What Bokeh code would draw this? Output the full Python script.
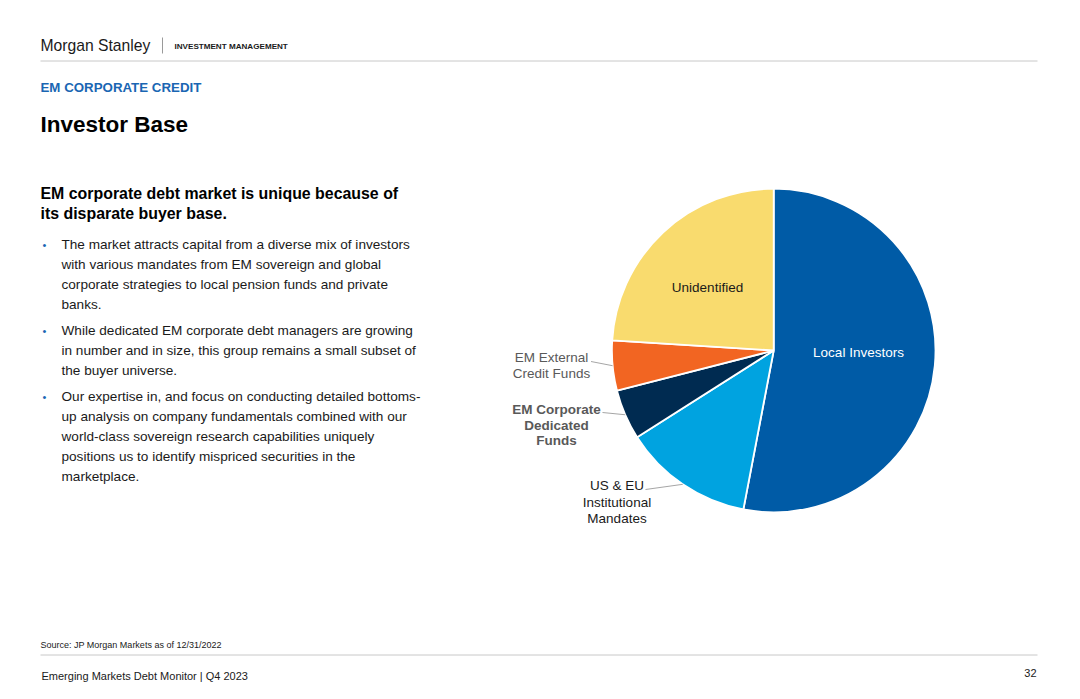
import math
from bokeh.plotting import figure
from bokeh.models import Range1d, ColumnDataSource
from bokeh.core.properties import value
from bokeh.embed import file_html
from bokeh.resources import INLINE

# ---------------- data ----------------
categories = ["Local Investors", "US & EU Institutional Mandates",
              "EM Corporate Dedicated Funds", "EM External Credit Funds", "Unidentified"]
shares = [53, 13, 5, 5, 24]
slice_colors = ["#005ba6", "#00a3e0", "#002b51", "#f26522", "#f9db6e"]

label_lines = [["Local Investors"],
               ["US & EU", "Institutional", "Mandates"],
               ["EM Corporate", "Dedicated", "Funds"],
               ["EM External", "Credit Funds"],
               ["Unidentified"]]

header_brand = "Morgan Stanley"
header_unit = "INVESTMENT MANAGEMENT"
section = "EM CORPORATE CREDIT"
title = "Investor Base"
subtitle = ["EM corporate debt market is unique because of", "its disparate buyer base."]
bullets = [
    ["The market attracts capital from a diverse mix of investors",
     "with various mandates from EM sovereign and global",
     "corporate strategies to local pension funds and private",
     "banks."],
    ["While dedicated EM corporate debt managers are growing",
     "in number and in size, this group remains a small subset of",
     "the buyer universe."],
    ["Our expertise in, and focus on conducting detailed bottoms-",
     "up analysis on company fundamentals combined with our",
     "world-class sovereign research capabilities uniquely",
     "positions us to identify mispriced securities in the",
     "marketplace."],
]
source = "Source: JP Morgan Markets as of 12/31/2022"
footer = "Emerging Markets Debt Monitor | Q4 2023"
page_no = "32"

# ---------------- layout ----------------
FONT = value("Liberation Sans")
W, H = 1064, 683
def Y(py):
    return 699 - py

p = figure(width=W, height=H, x_range=Range1d(0, W), y_range=Range1d(699 - H, 699),
           output_backend="svg", toolbar_location=None, min_border=0)
p.axis.visible = False
p.grid.visible = False
p.outline_line_color = None
p.background_fill_color = "white"
p.border_fill_color = "white"

def txt(x, py, s, size, color="#000000", style="normal", align="left"):
    p.text(x=[x], y=[Y(py)], text=[s], text_font=FONT, text_font_size=f"{size}px",
           text_color=color, text_font_style=style, text_align=align,
           text_baseline="middle")

# header
txt(40, 45, header_brand, 15.7, "#1a1a1a")
p.segment(x0=[162], y0=[Y(37)], x1=[162], y1=[Y(53)], line_color="#9a9a9a", line_width=1)
txt(174, 45.5, header_unit, 8.1, "#1a1a1a", "bold")
p.segment(x0=[40], y0=[Y(60.5)], x1=[1037], y1=[Y(60.5)], line_color="#c8c8c8", line_width=1)

txt(40, 87, section, 13.3, "#1a66b3", "bold")
txt(40, 124, title, 22.5, "#000000", "bold")
for i, s in enumerate(subtitle):
    txt(40, 193 + 20 * i, s, 15.9, "#000000", "bold")

py = 244
for para in bullets:
    txt(42, py, "\u2022", 11, "#1a66b3")
    for line in para:
        txt(61, py, line, 13.6, "#1a1a1a")
        py += 20
    py += 6

# footer
txt(40, 644, source, 9, "#1a1a1a")
p.segment(x0=[40], y0=[Y(654.5)], x1=[1037], y1=[Y(654.5)], line_color="#c8c8c8", line_width=1)
txt(41, 675, footer, 11, "#1a1a1a")
txt(1036, 672, page_no, 11, "#1a1a1a", align="right")

# ---------------- pie ----------------
cx, cy, R = 773.2, Y(350), 161.8
total = float(sum(shares))
starts, ends, mids = [], [], []
acc = 0.0
for v in shares:
    a0 = math.radians(90 - acc / total * 360)
    a1 = math.radians(90 - (acc + v) / total * 360)
    starts.append(a1)
    ends.append(a0)
    mids.append((a0 + a1) / 2)
    acc += v

src = ColumnDataSource(dict(cat=categories, val=shares, start=starts, end=ends, color=slice_colors))
p.wedge(x=cx, y=cy, radius=R, start_angle="start", end_angle="end", direction="anticlock",
        fill_color="color", line_color="white", line_width=1.8, source=src)

# label placement (layout only)
label_pos = [(858, 352), (616.5, 485), (556, 409), (551, 357), (707, 287)]
label_color = ["#ffffff", "#1a1a1a", "#595959", "#595959", "#1a1a1a"]
label_style = ["normal", "normal", "bold", "normal", "normal"]
leader_start = [None, (645, 489), (602, 412), (590.5, 361), None]
line_gap = [16, 16.5, 15.5, 15.5, 16]

for i, lines in enumerate(label_lines):
    lx, ly = label_pos[i]
    for j, s in enumerate(lines):
        txt(lx, ly + line_gap[i] * j, s, 13.5, label_color[i], label_style[i], "center")
    if leader_start[i] is not None:
        sx, sy = leader_start[i]
        ex = cx + R * math.cos(mids[i])
        ey = cy + R * math.sin(mids[i])
        p.segment(x0=[sx], y0=[Y(sy)], x1=[ex], y1=[ey], line_color="#a6a6a6", line_width=1)

open("out.html", "w").write(file_html(p, INLINE))
